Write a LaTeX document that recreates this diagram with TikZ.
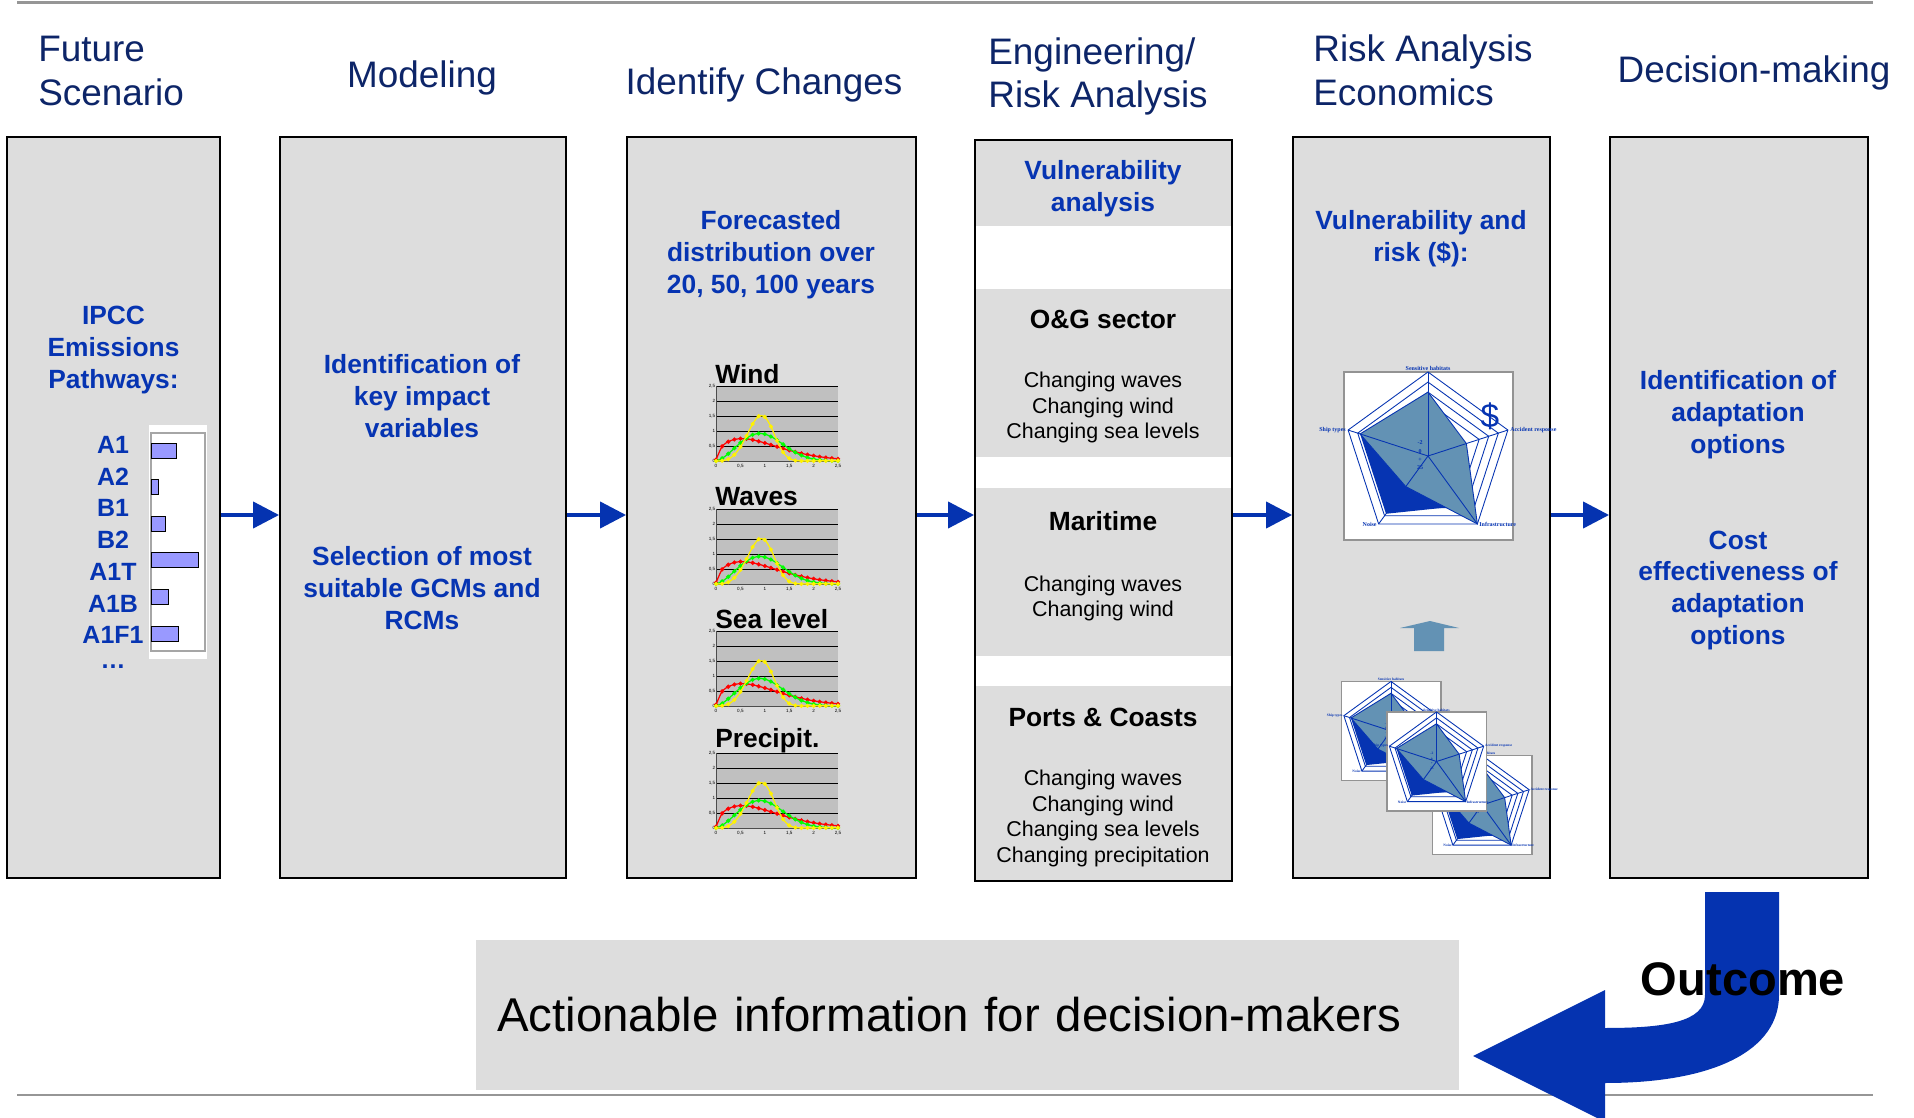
\documentclass[tikz,border=0pt]{standalone}
\usepackage{fontspec}
\setmainfont{Liberation Sans}
\newfontfamily\radarfont{Liberation Serif}
\usetikzlibrary{arrows.meta}

\definecolor{hdrblue}{RGB}{13,37,104}
\definecolor{txtblue}{RGB}{6,52,178}
\definecolor{arrowblue}{RGB}{5,51,176}
\definecolor{boxgray}{RGB}{221,221,221}
\definecolor{steel}{RGB}{99,146,180}
\definecolor{plotgray}{RGB}{192,192,192}
\definecolor{barblue}{RGB}{153,153,255}
\definecolor{rulegray}{RGB}{150,150,150}

\tikzset{
  col/.style={draw=black, line width=1.1pt, fill=boxgray, minimum height=14.82cm, inner sep=0pt},
  hdr/.style={text=hdrblue, font=\fontsize{21}{25}\selectfont, inner sep=0pt},
  bluetxt/.style={text=txtblue, font=\fontsize{15}{18.2}\selectfont\bfseries, align=center, inner sep=0pt},
  scenlab/.style={text=txtblue, font=\fontsize{14.2}{17}\selectfont\bfseries, inner sep=0pt},
  sector/.style={font=\fontsize{15}{18}\selectfont\bfseries, inner sep=0pt},
  effects/.style={font=\fontsize{12.2}{14.6}\selectfont, align=center, inner sep=0pt},
  charttitle/.style={font=\fontsize{15}{18}\selectfont\bfseries, inner sep=0pt},
  ticklab/.style={font=\fontsize{2.6}{3}\selectfont, inner sep=0.3pt},
  distline/.style={line width=0.7pt, mark=*, mark size=0.8pt},
  radline/.style={draw=txtblue, line width=0.5pt},
  radlab/.style={text=txtblue, font={\radarfont\fontsize{3.4}{3.7}\selectfont\bfseries}, inner sep=0.6pt, transform shape},
  flow/.style={draw=arrowblue, line width=2.3pt, -{Triangle[length=5.2mm,width=5.2mm]}},
}

% one small distribution chart: #1 = y of the zero line, #2 = title
\newcommand\distchart[2]{%
  \fill[plotgray] (716,#1-75) rectangle (838,#1);
  \foreach \g in {15,30,45,60,75}
    \draw[line width=0.5pt] (716,#1-\g) -- (838,#1-\g);
  \draw[line width=0.4pt, black!70] (716,#1-75) -- (716,#1) -- (838,#1);
  \foreach \v [count=\k from 0] in {0,{0,5},1,{1,5},2,{2,5}} {
    \node[ticklab, anchor=east] at (716,#1-15*\k) {\v};
    \node[ticklab, anchor=north] at (716+24.4*\k,#1+2) {\v};
  }
  \draw[distline, red] plot[domain=0.001:2.5, samples=21, smooth]
    ({716+48.8*\x}, {#1-30*1.5*sqrt(\x/1.1)*exp(-min(9,(\x/1.1)*sqrt(\x/1.1)))});
  \draw[distline, green] plot[domain=0.001:2.5, samples=21, smooth]
    ({716+48.8*\x}, {#1-30*2.273*(\x/1.1)*sqrt(\x/1.1)*exp(-min(9,(\x/1.1)*(\x/1.1)*sqrt(\x/1.1)))});
  \draw[distline, yellow] plot[domain=0.001:2.5, samples=21, smooth]
    ({716+48.8*\x}, {#1-30*4*\x*\x*\x*exp(-min(9,\x*\x*\x*\x))});
  \node[charttitle, anchor=west] at (715,#1-87) {#2};
}

% radar chart card: #1,#2 = centre, #3 = scale
\newcommand\radarplot[3]{%
  \begin{scope}[shift={(#1,#2)}, scale=#3]
    \draw[gray!85, line width=0.8pt, fill=white] (-84,-84) rectangle (85,84);
    \foreach \r in {1,.88,.76,.64}
      \draw[radline] (-90:{84*\r}) -- (-18:{84*\r}) -- (54:{84*\r}) -- (126:{84*\r}) -- (198:{84*\r}) -- cycle;
    \fill[txtblue] (-90:{84*.70}) -- (-18:{84*.40}) -- (54:{84*.73}) -- (126:{84*.85}) -- (198:{84*.85}) -- cycle;
    \filldraw[fill=steel, radline] (-90:{84*.76}) -- (-18:{84*.48}) -- (54:84) -- (126:{84*.45}) -- (198:{84*.85}) -- cycle;
    \foreach \a in {-90,-18,54,126,198}
      \draw[radline] (0,0) -- (\a:84);
    \node[radlab, anchor=south] at (-90:84) {Sensitive habitats};
    \node[radlab, anchor=west] at (-18:85) {Accident response};
    \node[radlab, anchor=west] at (54:85) {Infrastructure};
    \node[radlab, anchor=east] at (126:85) {Noise};
    \node[radlab, anchor=east] at (198:85) {Ship types};
    \node[radlab] at (-8,-13) {-2};
    \node[radlab] at (-8,-4) {0};
    \node[radlab] at (-8,4) {+};
    \node[radlab] at (-8,12) {25};
  \end{scope}}

\begin{document}
\begin{tikzpicture}[x=0.02cm, y=-0.02cm]
  \useasboundingbox (0,0) rectangle (1914,1118);
  \fill[white] (0,0) rectangle (1914,1118);

  % rules
  \draw[rulegray, line width=1.4pt] (17,2.5) -- (1873,2.5);
  \draw[rulegray, line width=1.4pt] (17,1095) -- (1873,1095);

  % headings
  \node[hdr, anchor=west, align=left] (hscen) at (38,71) {Future\\Scenario};
  \node[hdr] (hmodel) at (422,77.5) {Modeling};
  \node[hdr] (hchange) at (764,84.5) {Identify Changes};
  \node[hdr, anchor=west, align=left] (heng) at (988,76.5) {Engineering/\\Risk Analysis};
  \node[hdr, anchor=west, align=left] (hecon) at (1313,70) {Risk Analysis\\Economics};
  \node[hdr] (hdecide) at (1754,72.5) {Decision-making};

  % columns
  \node[col, minimum width=4.26cm] (scen) at (113.5,507.5) {};
  \node[col, minimum width=5.72cm] (model) at (423,507.5) {};
  \node[col, minimum width=5.78cm] (change) at (771.5,507.5) {};
  \foreach \top/\bot in {140/226, 289/457, 488/656, 686/881}
    \fill[boxgray] (975,\top) rectangle (1232,\bot);
  \node[col, fill=none, minimum width=5.14cm] (eng) at (1103.5,510.5) {};
  \node[col, minimum width=5.14cm] (econ) at (1421.5,507.5) {};
  \node[col, minimum width=5.16cm] (decide) at (1739,507.5) {};

  \foreach \a/\b in {scen/model, model/change, change/eng, eng/econ, econ/decide}
    \draw[flow] (\a.east |- 0,515) -- (\b.west |- 0,515);

  % future scenario
  \node[bluetxt] (ipcc) at (113.5,350.5) {IPCC\\Emissions\\Pathways:};
  \fill[white] (149,425) rectangle (207,659);
  \draw[gray!70, line width=0.6pt] (151,433) rectangle (205,651);
  \foreach \len [count=\i from 0] in {25,7,14,47,17,27}
    \draw[fill=barblue, line width=0.5pt] (151,{443+36.6*\i}) rectangle ++(\len,15);
  \foreach \lab [count=\i from 0] in {A1,A2,B1,B2,A1T,A1B,A1F1}
    \node[scenlab] (sc\i) at (113,{445+31.7*\i}) {\lab};
  \node[scenlab] (scmore) at (113,667) {\dots};

  % modeling
  \node[bluetxt] (keyvar) at (422,396) {Identification of\\key impact\\variables};
  \node[bluetxt] (gcm) at (422,588) {Selection of most\\suitable GCMs and\\RCMs};

  % identify changes
  \node[bluetxt] (forecast) at (771,254.5) {Forecasted\\distribution over\\20, 50, 100 years};
  \distchart{461}{Wind}
  \distchart{584}{Waves}
  \distchart{706}{Sea level}
  \distchart{828}{Precipit.}

  % engineering / risk analysis
  \node[bluetxt] (vuln) at (1103,188.5) {Vulnerability\\analysis};
  \node[sector] (og) at (1103,319) {O\&G sector};
  \node[effects] (ogfx) at (1103,407.5) {Changing waves\\Changing wind\\Changing sea levels};
  \node[sector] (mar) at (1103,521) {Maritime};
  \node[effects] (marfx) at (1103,598.5) {Changing waves\\Changing wind};
  \node[sector] (ports) at (1103,717) {Ports \& Coasts};
  \node[effects] (portsfx) at (1103,818.5) {Changing waves\\Changing wind\\Changing sea levels\\Changing precipitation};

  % risk analysis economics
  \node[bluetxt] (risk) at (1421,238.5) {Vulnerability and\\risk (\$):};
  \radarplot{1428}{456}{1}
  \node[text=txtblue, font=\fontsize{19}{19}\selectfont, inner sep=0pt] (dollar) at (1490,416) {\$};
  \fill[steel] (1400,628) -- (1430,621) -- (1459,628) -- (1444,628) -- (1444,651) -- (1414,651) -- (1414,628) -- cycle;
  \radarplot{1391}{731}{0.59}
  \radarplot{1482}{805}{0.59}
  \radarplot{1436.5}{761.5}{0.59}

  % decision-making
  \node[bluetxt] (adapt) at (1738,414.5) {Identification of\\adaptation\\options};
  \node[bluetxt] (cost) at (1738,590.5) {Cost\\effectiveness of\\adaptation\\options};

  % outcome
  \node[fill=boxgray, minimum width=19.66cm, minimum height=3cm, text width=18.82cm, inner xsep=0.42cm,
        align=left, font=\fontsize{27}{30}\selectfont] (action) at (967.5,1015) {Actionable information for decision-makers};
  \fill[arrowblue] (1705,892) -- (1705,995) .. controls (1705,1022) and (1665,1028) .. (1605,1028)
    -- (1605,990) -- (1473,1056) -- (1605,1122) -- (1605,1083)
    .. controls (1715,1083) and (1779,1050) .. (1779,995) -- (1779,892) -- cycle;
  \node[font=\fontsize{26.8}{30}\selectfont\bfseries, inner sep=0pt] (outcome) at (1743,979) {Outcome};
\end{tikzpicture}
\end{document}
